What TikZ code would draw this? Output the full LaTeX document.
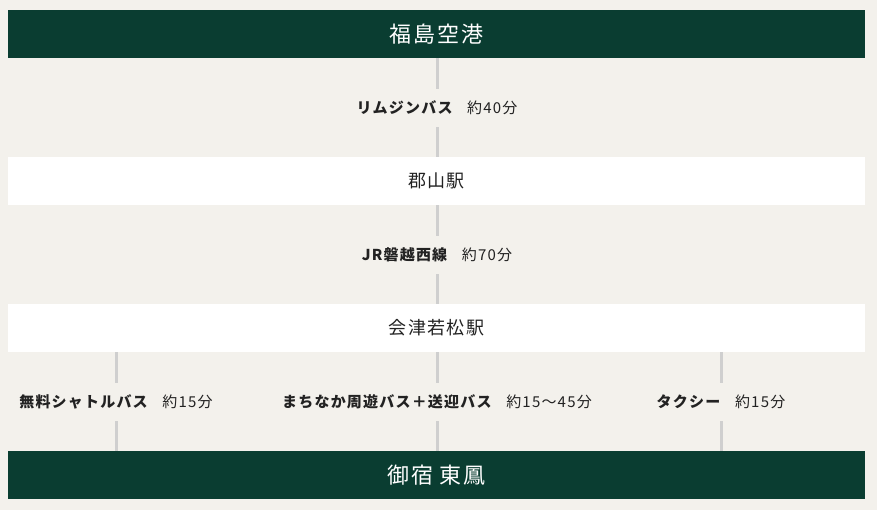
\documentclass[tikz,border=0pt]{standalone}
\usepackage{fontspec}
\newfontfamily\jp[LetterSpace=8]{Noto Sans CJK JP}
\newcommand\jpbig{\jp\fontsize{22}{26}\selectfont}
\newcommand\jpmid{\jp\fontsize{18}{22}\selectfont}
\newcommand\jpsmall{\jp\fontsize{15}{18}\selectfont}
\definecolor{bg}{HTML}{F3F1EC}
\definecolor{dgreen}{HTML}{0A3D31}
\definecolor{txt}{HTML}{222222}
\definecolor{lgray}{HTML}{CFCFCF}
\begin{document}
\begin{tikzpicture}[x=1pt,y=-1pt,
  darkbox/.style={fill=dgreen, text=white, minimum width=857pt, minimum height=48pt, inner sep=0pt, font=\jpbig},
  lightbox/.style={fill=white, text=txt, minimum width=857pt, minimum height=48pt, inner sep=0pt, font=\jpmid},
  route/.style={text=txt, minimum height=38pt, inner sep=0pt, font=\jpsmall},
  link/.style={draw=lgray, line width=3pt}]
\useasboundingbox (0,0) rectangle (877,510);
\fill[bg] (0,0) rectangle (877,510);
\node[darkbox] (airport) at (436.5,34) {福島空港};
\node[lightbox] (koriyama) at (436.5,181) {郡山駅};
\node[lightbox] (aizu) at (436.5,328) {会津若松駅};
\node[darkbox] (hotel) at (436.5,475) {御宿 東鳳};
\node[route] (r1) at (437,108) {\textbf{リムジンバス}\hspace{0.9em}約40分};
\node[route] (r2) at (437,255) {\textbf{JR磐越西線}\hspace{0.9em}約70分};
\node[route] (r3) at (116,402) {\textbf{無料シャトルバス}\hspace{0.9em}約15分};
\node[route] (r4) at (437,402) {\textbf{まちなか周遊バス＋送迎バス}\hspace{0.9em}約15〜45分};
\node[route] (r5) at (721,402) {\textbf{タクシー}\hspace{0.9em}約15分};
\draw[link] (r1.north) -- (r1.north |- airport.south);
\draw[link] (r1.south) -- (r1.south |- koriyama.north);
\draw[link] (r2.north) -- (r2.north |- koriyama.south);
\draw[link] (r2.south) -- (r2.south |- aizu.north);
\foreach \r in {r3,r4,r5} {
  \draw[link] (\r.north) -- (\r.north |- aizu.south);
  \draw[link] (\r.south) -- (\r.south |- hotel.north);
}
\end{tikzpicture}
\end{document}
